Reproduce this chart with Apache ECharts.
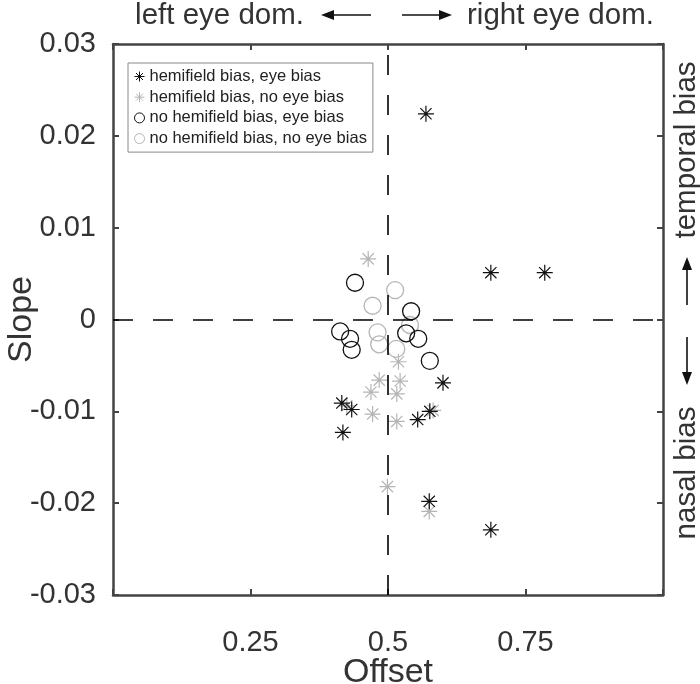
<!DOCTYPE html>
<html>
<head>
<meta charset="utf-8">
<script src="https://cdn.jsdelivr.net/npm/echarts@6/dist/echarts.min.js"></script>
<style>
  html, body { margin: 0; padding: 0; background: #fff; }
  #chart { width: 700px; height: 684px; }
</style>
</head>
<body>
<div id="chart"></div>
<script>
// [offset, slope]
var hemiEye = [
  [0.569, 0.0224], [0.687, 0.0051], [0.785, 0.0051], [0.600, -0.0069],
  [0.576, -0.0100], [0.554, -0.0109], [0.575, -0.0198], [0.687, -0.0229],
  [0.416, -0.0091], [0.434, -0.0098], [0.418, -0.0123]
];
var hemiNoEye = [
  [0.464, 0.0066], [0.519, -0.0046], [0.484, -0.0066], [0.522, -0.0067],
  [0.469, -0.0079], [0.516, -0.0081], [0.472, -0.0103], [0.516, -0.0111],
  [0.499, -0.0182], [0.575, -0.0209], [0.425, -0.0094], [0.582, -0.0099]
];
var noHemiEye = [
  [0.440, 0.0040], [0.542, 0.0009], [0.413, -0.0013], [0.431, -0.0021],
  [0.434, -0.0033], [0.533, -0.0015], [0.555, -0.0021], [0.576, -0.0045]
];
var noHemiNoEye = [
  [0.513, 0.0032], [0.472, 0.0015], [0.540, -0.0006], [0.481, -0.0014],
  [0.484, -0.0027], [0.515, -0.0032]
];
var names = [
  'hemifield bias, eye bias',
  'hemifield bias, no eye bias',
  'no hemifield bias, eye bias',
  'no hemifield bias, no eye bias'
];
var xTicks = [0.25, 0.5, 0.75];

var star = 'path://M0,-10L0,10M-10,0L10,0M-7,-7L7,7M-7,7L7,-7';
var dark = '#111';
var grey = '#b5b5b5';
var axisCol = '#444';
var font = 'Liberation Sans';

var mychart = echarts.init(document.getElementById('chart'));

function axisBase (pos, show) {
  return {
    position: pos,
    axisLine: { show: true, onZero: false, lineStyle: { color: axisCol, width: 2.5 } },
    axisTick: { show: true, inside: true, length: 6, lineStyle: { color: axisCol, width: 2 } },
    splitLine: { show: false },
    axisLabel: { show: show }
  };
}

var xBottom = axisBase('bottom', true);
Object.assign(xBottom, {
  type: 'value', min: 0, max: 1, interval: 0.25,
  name: 'Offset', nameLocation: 'middle', nameGap: 61, nameMoveOverlap: false,
  nameTextStyle: { fontFamily: font, fontSize: 34, color: '#333' }
});
xBottom.axisLabel = {
  show: true, margin: 33, fontFamily: font, fontSize: 29, color: '#333',
  formatter: function (v) { return xTicks.indexOf(v) >= 0 ? String(v) : ''; }
};
var xTop = axisBase('top', false);
Object.assign(xTop, { type: 'value', min: 0, max: 1, interval: 0.25 });

var yLeft = axisBase('left', true);
Object.assign(yLeft, {
  type: 'value', min: -0.03, max: 0.03, interval: 0.01,
  name: 'Slope', nameLocation: 'middle', nameGap: 74, nameMoveOverlap: false,
  nameTextStyle: { fontFamily: font, fontSize: 34, color: '#333' }
});
yLeft.axisLabel = { show: true, margin: 17, fontFamily: font, fontSize: 29, color: '#333' };
var yRight = axisBase('right', false);
Object.assign(yRight, { type: 'value', min: -0.03, max: 0.03, interval: 0.01 });

function starSeries (name, data, col, z) {
  return {
    name: name, type: 'scatter', data: data, z: z,
    symbol: star, symbolSize: 16,
    itemStyle: { color: col, borderColor: col, borderWidth: 1.2, opacity: 1 },
    emphasis: { disabled: true }
  };
}
function ringSeries (name, data, col, z) {
  return {
    name: name, type: 'scatter', data: data, z: z,
    symbol: 'circle', symbolSize: 17,
    itemStyle: { color: 'rgba(0,0,0,0)', borderColor: col, borderWidth: 1.3, opacity: 1 },
    emphasis: { disabled: true }
  };
}

var series = [
  starSeries(names[1], hemiNoEye, grey, 2),
  ringSeries(names[3], noHemiNoEye, grey, 2),
  starSeries(names[0], hemiEye, dark, 3),
  ringSeries(names[2], noHemiEye, dark, 3)
];
// dashed reference lines at offset 0.5 and slope 0
series[0].markLine = {
  silent: true, symbol: 'none', animation: false,
  label: { show: false },
  lineStyle: { color: '#000', width: 1.6, type: [20, 20] },
  data: [{ xAxis: 0.5 }, { yAxis: 0 }]
};

function arrow (x1, y1, x2, y2, head) {
  return [
    { type: 'line', shape: { x1: x1, y1: y1, x2: x2, y2: y2 }, style: { stroke: '#111', lineWidth: 1.6 } },
    { type: 'polygon', shape: { points: head }, style: { fill: '#111' } }
  ];
}
var txt = { fontFamily: font, fontSize: 29.5, fill: '#333' };

var graphic = [
  { type: 'text', x: 304, y: 16, style: Object.assign({ text: 'left eye dom.', align: 'right', verticalAlign: 'middle' }, txt) },
  { type: 'text', x: 467, y: 16, style: Object.assign({ text: 'right eye dom.', align: 'left', verticalAlign: 'middle' }, txt) },
  { type: 'text', x: 687, y: 150, rotation: Math.PI / 2, style: Object.assign({ text: 'temporal bias', align: 'center', verticalAlign: 'middle' }, txt) },
  { type: 'text', x: 687, y: 473, rotation: Math.PI / 2, style: Object.assign({ text: 'nasal bias', align: 'center', verticalAlign: 'middle' }, txt) }
]
  .concat(arrow(371, 15, 330, 15, [[321, 15], [334, 10], [334, 20]]))
  .concat(arrow(402, 15, 443, 15, [[452, 15], [439, 10], [439, 20]]))
  .concat(arrow(687, 305, 687, 266, [[687, 257], [682, 270], [692, 270]]))
  .concat(arrow(687, 337, 687, 376, [[687, 385], [682, 372], [692, 372]]));

var legendIcon = function (name, icon, col) {
  return {
    name: name, icon: icon,
    itemStyle: { color: icon === star ? col : 'rgba(0,0,0,0)', borderColor: col, borderWidth: 1 }
  };
};

var option = {
  animation: false,
  backgroundColor: '#fff',
  grid: { left: 113, right: 37, top: 44, bottom: 89, containLabel: false, outerBoundsMode: 'none' },
  xAxis: [xBottom, xTop],
  yAxis: [yLeft, yRight],
  legend: {
    orient: 'vertical', left: 128, top: 63,
    padding: [5, 6, 5, 6],
    itemWidth: 10, itemHeight: 10, itemGap: 3.7,
    selectedMode: false,
    backgroundColor: '#fff', borderColor: '#888', borderWidth: 1, borderRadius: 0,
    textStyle: { fontFamily: font, fontSize: 16.5, color: '#222', lineHeight: 17 },
    data: [
      legendIcon(names[0], star, dark),
      legendIcon(names[1], star, grey),
      legendIcon(names[2], 'circle', dark),
      legendIcon(names[3], 'circle', grey)
    ]
  },
  graphic: graphic,
  series: series
};
mychart.setOption(option);
</script>
</body>
</html>
